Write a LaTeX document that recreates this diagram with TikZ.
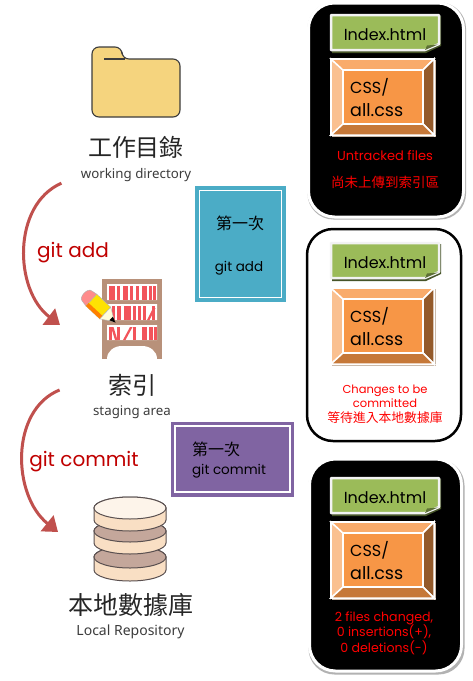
\documentclass[tikz,border=0pt]{standalone}
\usepackage{fontspec}
\usepackage{xcolor}
\usetikzlibrary{positioning,arrows.meta}
\setmainfont{Noto Sans}
\newfontfamily\cjk{Noto Sans CJK TC}
\newfontfamily\pixfont{Poppins}
\definecolor{flowred}{HTML}{C0504D}
\definecolor{gitred}{HTML}{C00000}
\definecolor{inkgray}{HTML}{3C3C3C}
\definecolor{folderfill}{HTML}{F5D47E}
\definecolor{shelfbrown}{HTML}{B8917A}
\definecolor{bookred}{HTML}{F2545B}
\definecolor{boxblue}{HTML}{4BACC6}
\definecolor{boxpurple}{HTML}{8064A2}
\definecolor{filegreen}{HTML}{9BBB59}
\definecolor{cssorange}{HTML}{F79646}
\definecolor{dbbeige}{HTML}{F9DFC4}
\definecolor{dbbrown}{HTML}{C4A79B}
\definecolor{dbtop}{HTML}{FDF4EA}
\definecolor{dbline}{HTML}{5A5050}
\tikzset{
  iconbox/.style={inner sep=0pt, outer sep=0pt},
  titlecjk/.style={font=\cjk\fontsize{24}{28}\selectfont, text=black!85},
  subtitle/.style={font=\fontsize{13.3}{15}\selectfont, text=inkgray},
  gitlabel/.style={font=\pixfont\fontsize{20}{23}\selectfont, text=gitred},
  flowarrow/.style={draw=flowred, line width=3pt, -{Triangle[length=14pt,width=20pt]}},
  stepbox/.style={inner sep=0pt, outer sep=0pt, line width=4.5pt},
  panelbox/.style={rounded corners=26pt, inner sep=0pt, outer sep=0pt, line width=3pt},
  dbdisc/.style={draw=dbline, line width=1pt},
  cardtext/.style={font=\pixfont\fontsize{16}{19}\selectfont, text=black},
  redtext/.style={font=\pixfont\fontsize{11.5}{14}\selectfont, text=red, align=center},
  redcjk/.style={font=\cjk\fontsize{13.5}{16}\selectfont, text=red}
}
\begin{document}
\begin{tikzpicture}[x=1pt,y=-1pt]
\useasboundingbox[fill=white] (0,0) rectangle (473,681);

% folder
\node[iconbox, minimum width=88pt, minimum height=70pt] (folder) at (136,82) {};
\draw[draw=inkgray, fill=folderfill, line width=1.1pt, rounded corners=7pt]
  (92,117) -- (92,47) -- (122,47) -- (122,59) -- (180,59) -- (180,117) -- cycle;
\draw[draw=inkgray, line width=1.1pt] (104,59) -- (125,59);
\node[titlecjk] (wdtitle) at (136,147) {工作目錄};
\node[subtitle] (wdsub) at (136,175) {working directory};

% shelf
\node[iconbox, minimum width=60pt, minimum height=80pt] (shelf) at (132,319) {};
\fill[shelfbrown] (102,279) rectangle (162,359);
\fill[white] (107,284) rectangle (157,300) (107,304) rectangle (157,320) (107,325) rectangle (157,340);
\fill[white] (107,359) .. controls (107,351) and (114,346) .. (122,346) -- (142,346)
  .. controls (150,346) and (157,351) .. (157,359) -- cycle;
\foreach \bx/\bw in {109/6,117/3,123/5,130/3,136/3,142/5,149/3,153/3}
  \fill[bookred] (\bx,286) rectangle ++(\bw,14);
\foreach \bx/\bw in {112/3,117/4,124/7,133/3,138/3,143/3,152/3}
  \fill[bookred] (\bx,306) rectangle ++(\bw,14);
\fill[bookred] (147,320) -- (153,308) -- (155.5,308) -- (149.5,320) -- cycle;
\foreach \bx/\bw in {109/3,117/3,133/3,142/5,149/4,154/3}
  \fill[bookred] (\bx,327) rectangle ++(\bw,13);
\fill[bookred] (111,327) -- (113.5,327) -- (117.5,340) -- (115,340) -- cycle;
\fill[bookred] (123,340) -- (130,327) -- (132.5,327) -- (125.5,340) -- cycle;
% pencil
\begin{scope}[shift={(87,296)},rotate=-43]
  \fill[draw=black!30, fill=red!45] (0,-7) -- (6,-8) -- (6,8) -- (0,7) to[out=180,in=180] cycle;
  \fill[draw=black!30, fill=yellow!85!orange] (6,-8) -- (25,-8) -- (25,8) -- (6,8) -- cycle;
  \fill[orange] (6,4) rectangle (25,8);
  \fill[draw=black!30, fill=yellow!15] (25,-8) -- (36,-1) -- (36,1) -- (25,8) -- cycle;
  \fill[black] (33,-2.5) -- (39,0) -- (33,2.5) -- cycle;
\end{scope}
\node[titlecjk] (shelftitle) at (132,385) {索引};
\node[subtitle] (shelfsub) at (132,412) {staging area};

% database
\node[iconbox, minimum width=72pt, minimum height=84pt] (db) at (130,539) {};
\foreach \dtop/\dlow/\dfill in {557/570/dbbrown,531/543/dbbrown,508/520/dbtop}{
  \draw[dbdisc, fill=dbbeige] (94,\dtop) -- (94,\dlow) arc[start angle=180, end angle=360, x radius=36pt, y radius=11pt]
    -- (166,\dtop) arc[start angle=0, end angle=180, x radius=36pt, y radius=11pt] -- cycle;
  \draw[dbdisc, fill=\dfill] (130,\dtop) ellipse[x radius=36pt, y radius=11pt];
}
\node[titlecjk, font=\cjk\fontsize{25}{28}\selectfont] (dbtitle) at (131,605) {本地數據庫};
\node[subtitle, font=\fontsize{14}{16}\selectfont] (dbsub) at (130.5,632) {Local Repository};

% flow arrows
\draw[flowarrow] ([shift={(-16,-2)}]wdsub.south west) .. controls (12,205) and (14,290) .. ([shift={(-42,6)}]shelf.west);
\draw[flowarrow] ([shift={(-30,-12)}]shelfsub.north west) .. controls (10,410) and (12,495) .. ([shift={(-36,-7)}]db.west);
\node[gitlabel] (addlabel) at (73,253) {git add};
\node[gitlabel] (commitlabel) at (84,462) {git commit};

% first-time boxes
\node[stepbox, fill=boxblue, draw=boxblue, minimum width=86.5pt, minimum height=111.5pt] (addbox) at (240.5,244) {};
\draw[white, line width=1.5pt] (199.5,190.5) rectangle (281.5,297.5);
\node[font=\cjk\fontsize{16}{19}\selectfont] (addfirst) at (240,223) {第一次};
\node[font=\pixfont\fontsize{13.5}{16}\selectfont] (addcmd) at (239,268) {git add};
\node[stepbox, fill=boxpurple, draw=boxpurple, minimum width=118.5pt, minimum height=70.5pt] (commitbox) at (232.5,459.5) {};
\draw[white, line width=1.5pt] (175,426) rectangle (290,492);
\node[font=\cjk\fontsize{16}{19}\selectfont] (commitfirst) at (216,449) {第一次};
\node[font=\pixfont\fontsize{13.5}{16}\selectfont] (commitcmd) at (229,471) {git commit};

% panels
\fill[black!30, rounded corners=26pt] (307.5,2.5) rectangle (466,219.5);
\node[panelbox, fill=black, draw=white, minimum width=155pt, minimum height=214pt] (panela) at (386,110) {};
\node[panelbox, fill=white, draw=black, line width=2.5pt, minimum width=154pt, minimum height=212pt] (panelb) at (384,335) {};
\fill[black!30, rounded corners=26pt] (308.5,459.5) rectangle (464.5,674.5);
\node[panelbox, fill=black, draw=white, minimum width=152pt, minimum height=212pt] (panelc) at (385.5,565) {};

% file cards
\foreach \name/\dy/\dh in {a/0/0,b/228/229,c/463/463}{
  \begin{scope}[shift={(0,\dy)}]
    \fill[filegreen!45!black] (332,16) -- (441,16) -- (441,46) -- (426,53) -- (332,53) -- cycle;
    \draw[draw=black!5, fill=filegreen, line width=2.5pt, line join=round]
      (331,15) -- (439,15) -- (439,44) -- (425,50) -- (331,50) -- cycle;
    \fill[filegreen!60!black] (425,50) -- (427,45.5) -- (438,44.5) -- cycle;
    \node[cardtext] (index\name) at (385,35) {Index.html};
  \end{scope}
  \begin{scope}[shift={(0,\dh)}]
    \fill[black!35!brown!40] (332,60) rectangle (436,137);
    \fill[white] (330,58) rectangle (434.5,135.5);
    \draw[white, line width=1.5pt, fill=cssorange!60] (331,59) -- (343,70) -- (343,124) -- (331,135) -- cycle;
    \draw[white, line width=1.5pt, fill=cssorange!80] (331,59) -- (434,59) -- (423,70) -- (343,70) -- cycle;
    \draw[white, line width=1.5pt, fill=cssorange!60!black] (434,59) -- (434,135) -- (423,124) -- (423,70) -- cycle;
    \draw[white, line width=1.5pt, fill=cssorange!80!black] (331,135) -- (343,124) -- (423,124) -- (434,135) -- cycle;
    \draw[white, line width=1.5pt, fill=cssorange] (343,70) rectangle (423,124);
    \node[cardtext, anchor=base west, inner sep=0pt] (css\name) at (350,93) {CSS/};
    \node[cardtext, font=\pixfont\fontsize{17.5}{19}\selectfont, anchor=base west, inner sep=0pt] (all\name) at (350,116) {all.css};
  \end{scope}
}

% panel captions
\node[redtext, font=\pixfont\fontsize{13}{15}\selectfont] (untracked) at (385,156) {Untracked files};
\node[redcjk] (untrackedzh) at (385,182) {尚未上傳到索引區};
\node[redtext] (staged) at (385,396) {Changes to be\\committed};
\node[redcjk, font=\cjk\fontsize{12.8}{16}\selectfont] (stagedzh) at (385,418) {等待進入本地數據庫};
\node[redtext, font=\pixfont\fontsize{12.6}{15.5}\selectfont] (committed) at (384,633) {2 files changed,\\0 insertions(+),\\0 deletions(-)};
\end{tikzpicture}
\end{document}
